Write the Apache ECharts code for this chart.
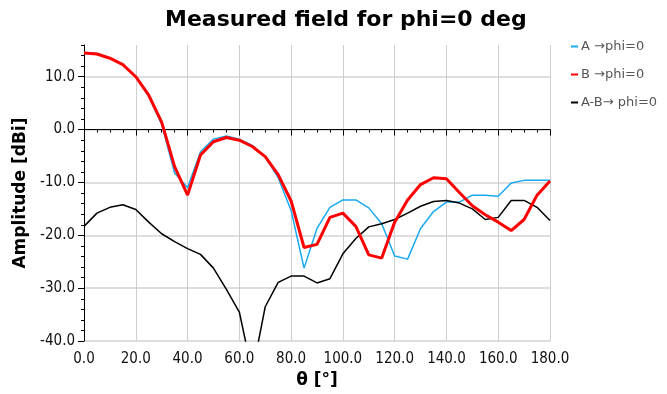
<!DOCTYPE html>
<html>
<head>
<meta charset="utf-8">
<script src="https://cdn.jsdelivr.net/npm/echarts@6/dist/echarts.min.js"></script>
<style>
  html, body { margin: 0; padding: 0; background: #ffffff; }
  #chart { width: 667px; height: 394px; }
</style>
</head>
<body>
<div id="chart"></div>
<script>
// Measurement angles (deg)
const theta = [0, 5, 10, 15, 20, 25, 30, 35, 40, 45, 50, 55, 60, 65, 70, 75, 80, 85, 90,
  95, 100, 105, 110, 115, 120, 125, 130, 135, 140, 145, 150, 155, 160, 165, 170, 175, 180];

// Amplitude in dBi
const ampA = [14.6, 14.4, 13.6, 12.3, 10.0, 6.3, 1.0, -8.2, -11.0, -4.2, -1.8, -1.2, -1.8, -3.0, -5.2, -9.1, -15.3, -26.2, -18.7,
  -14.7, -13.3, -13.3, -14.8, -17.8, -23.9, -24.5, -18.7, -15.5, -13.7, -13.7, -12.4, -12.4, -12.6, -10.1, -9.6, -9.6, -9.6];
const ampB = [14.5, 14.3, 13.5, 12.3, 10.0, 6.5, 1.4, -7.0, -12.4, -4.8, -2.3, -1.5, -2.0, -3.2, -5.1, -8.5, -13.5, -22.3, -21.7,
  -16.6, -15.8, -18.3, -23.7, -24.3, -17.5, -13.3, -10.4, -9.1, -9.3, -11.9, -14.4, -16.1, -17.5, -19.1, -17.0, -12.4, -9.7];
const ampDiff = [-18.3, -15.8, -14.7, -14.2, -15.1, -17.5, -19.7, -21.2, -22.5, -23.6, -26.2, -30.2, -34.5, -46.0, -33.5, -28.9, -27.7, -27.7, -29.0,
  -28.2, -23.5, -20.6, -18.4, -17.8, -17.0, -15.8, -14.5, -13.6, -13.4, -13.9, -15.0, -17.0, -16.6, -13.4, -13.4, -14.7, -17.2];

const seriesNames = ['A \u2192phi=0', 'B \u2192phi=0', 'A-B\u2192 phi=0'];
const seriesColors = ['#18aaf0', '#ff0000', '#000000'];
const seriesWidths = [1.5, 3, 1.5];
const seriesValues = [ampA, ampB, ampDiff];

const FONT = 'DejaVu Sans, sans-serif';
const FONT_NARROW = 'DejaVu Sans Condensed, DejaVu Sans, sans-serif';

const toPairs = (vals) => theta.map((t, i) => [t, vals[i]]);

const chart = echarts.init(document.getElementById('chart'), null, { renderer: 'canvas' });

chart.setOption({
  animation: false,
  backgroundColor: '#ffffff',
  title: {
    text: 'Measured field for phi=0 deg',
    left: 160,
    top: 4,
    textStyle: { fontFamily: FONT, fontWeight: 'bold', fontSize: 22, color: '#000' }
  },
  legend: {
    orient: 'vertical',
    left: 566,
    top: 35,
    itemGap: 15,
    itemWidth: 7,
    itemHeight: 2,
    icon: 'rect',
    data: seriesNames,
    textStyle: { fontFamily: FONT, fontSize: 13, color: '#555', padding: [0, 0, 0, -2] }
  },
  grid: { left: 84, right: 117, top: 45, bottom: 48, containLabel: false },
  xAxis: {
    type: 'value',
    min: 0,
    max: 180,
    interval: 20,
    name: '\u03b8 [\u00b0]',
    nameLocation: 'middle',
    nameGap: 28,
    nameTextStyle: { fontFamily: FONT, fontWeight: 'bold', fontSize: 17, color: '#000' },
    axisLine: { lineStyle: { color: '#000', width: 1 } },
    axisTick: { length: 6, lineStyle: { color: '#000' } },
    minorTick: { show: true, splitNumber: 4, length: 3, lineStyle: { color: '#000' } },
    axisLabel: { formatter: (v) => v.toFixed(1), fontFamily: FONT_NARROW, fontSize: 15, color: '#111', margin: 11 },
    splitLine: { show: true, lineStyle: { color: '#cfcfcf', width: 1 } }
  },
  yAxis: [
    {
      type: 'value',
      min: -40,
      max: 16,
      interval: 10,
      name: 'Amplitude [dBi]',
      nameLocation: 'middle',
      nameGap: 49,
      nameTextStyle: { fontFamily: FONT, fontWeight: 'bold', fontSize: 17, color: '#000' },
      axisLine: { show: true, lineStyle: { color: '#000', width: 1 } },
      axisTick: { length: 6, lineStyle: { color: '#000' } },
      axisLabel: { formatter: (v) => v.toFixed(1), fontFamily: FONT_NARROW, fontSize: 15, color: '#111', margin: 9, showMaxLabel: false },
      splitLine: { show: true, showMaxLine: false, lineStyle: { color: '#dedede', width: 2 } }
    },
    {
      // minor ticks every 2 dB, drawn on the left edge
      type: 'value',
      min: -40,
      max: 16,
      interval: 2,
      position: 'right',
      offset: -466,
      axisLine: { show: false },
      axisTick: { show: true, inside: true, length: 3, lineStyle: { color: '#000' } },
      axisLabel: { show: false },
      splitLine: { show: false }
    }
  ],
  series: seriesNames.map((name, i) => ({
    name: name,
    type: 'line',
    yAxisIndex: 0,
    data: toPairs(seriesValues[i]),
    symbol: 'none',
    clip: true,
    color: seriesColors[i],
    lineStyle: { color: seriesColors[i], width: seriesWidths[i] },
    z: i === 2 ? 3 : (i === 1 ? 4 : 2)
  }))
});
</script>
</body>
</html>
